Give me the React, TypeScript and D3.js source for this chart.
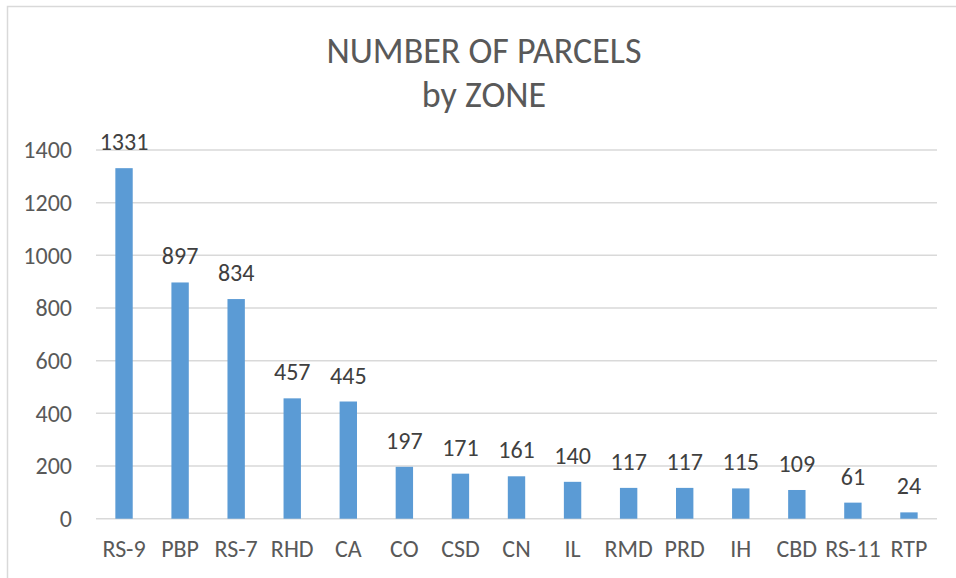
import React, { useEffect, useRef } from "react";
import * as d3 from "d3";

const zones = ["RS-9", "PBP", "RS-7", "RHD", "CA", "CO", "CSD", "CN", "IL", "RMD", "PRD", "IH", "CBD", "RS-11", "RTP"];
const parcels = [1331, 897, 834, 457, 445, 197, 171, 161, 140, 117, 117, 115, 109, 61, 24];
const yTicks = [0, 200, 400, 600, 800, 1000, 1200, 1400];
const titleLines = ["NUMBER OF PARCELS", "by ZONE"];

const width = 956;
const height = 578;
const font = "Carlito, Calibri, 'Open Sans', sans-serif";

const App = () => {
  const svgRef = useRef<SVGSVGElement>(null);

  useEffect(() => {
    const svg = d3.select(svgRef.current);
    svg.selectAll("*").remove();

    const left = 96;
    const right = 937;
    const top = 150;
    const bottom = 518.7;

    // chart area border
    svg
      .append("rect")
      .attr("x", 7.5)
      .attr("y", 6.5)
      .attr("width", 970)
      .attr("height", 600)
      .attr("fill", "white")
      .attr("stroke", "#d9d9d9")
      .attr("stroke-width", 1.5);

    svg
      .append("text")
      .attr("text-anchor", "middle")
      .attr("font-family", font)
      .attr("font-size", 36)
      .attr("fill", "#595959")
      .selectAll("tspan")
      .data(titleLines)
      .join("tspan")
      .attr("x", 484)
      .attr("y", (d, i) => 63 + i * 44)
      .text((d) => d);

    const x = d3.scaleBand().domain(zones).range([left, right]).paddingInner(0.69).paddingOuter(0.345);
    const y = d3.scaleLinear().domain([0, 1400]).range([bottom, top]);

    svg
      .append("g")
      .selectAll("line")
      .data(yTicks)
      .join("line")
      .attr("x1", left)
      .attr("x2", right)
      .attr("y1", (d) => y(d))
      .attr("y2", (d) => y(d))
      .attr("stroke", "#d9d9d9")
      .attr("stroke-width", 1.5);

    const yAxis = d3.axisLeft(y).tickValues(yTicks).tickSize(0).tickPadding(24).tickFormat(d3.format("d"));
    const gy = svg.append("g").attr("transform", `translate(${left},0)`).call(yAxis);
    gy.select(".domain").remove();
    gy.selectAll("text")
      .attr("font-family", font)
      .attr("font-size", 24)
      .attr("fill", "#595959")
      .attr("dy", "0.32em");

    svg
      .append("g")
      .selectAll("rect")
      .data(parcels)
      .join("rect")
      .attr("x", (d, i) => x(zones[i]))
      .attr("y", (d) => y(d))
      .attr("width", x.bandwidth())
      .attr("height", (d) => y(0) - y(d))
      .attr("fill", "#5b9bd5");

    svg
      .append("g")
      .selectAll("text")
      .data(parcels)
      .join("text")
      .attr("x", (d, i) => x(zones[i]) + x.bandwidth() / 2)
      .attr("y", (d) => y(d) - 18)
      .attr("text-anchor", "middle")
      .attr("font-family", font)
      .attr("font-size", 24)
      .attr("fill", "#404040")
      .text((d) => d);

    const band = (right - left) / zones.length;
    svg
      .append("g")
      .selectAll("text")
      .data(zones)
      .join("text")
      .attr("x", (d, i) => left + band * (i + 0.5))
      .attr("y", 557)
      .attr("text-anchor", "middle")
      .attr("font-family", font)
      .attr("font-size", 24)
      .attr("fill", "#595959")
      .text((d) => d);
  }, []);

  return (
    <svg
      ref={svgRef}
      width={width}
      height={height}
      style={{ position: "absolute", left: 0, top: 0 }}
    ></svg>
  );
};

export default App;
